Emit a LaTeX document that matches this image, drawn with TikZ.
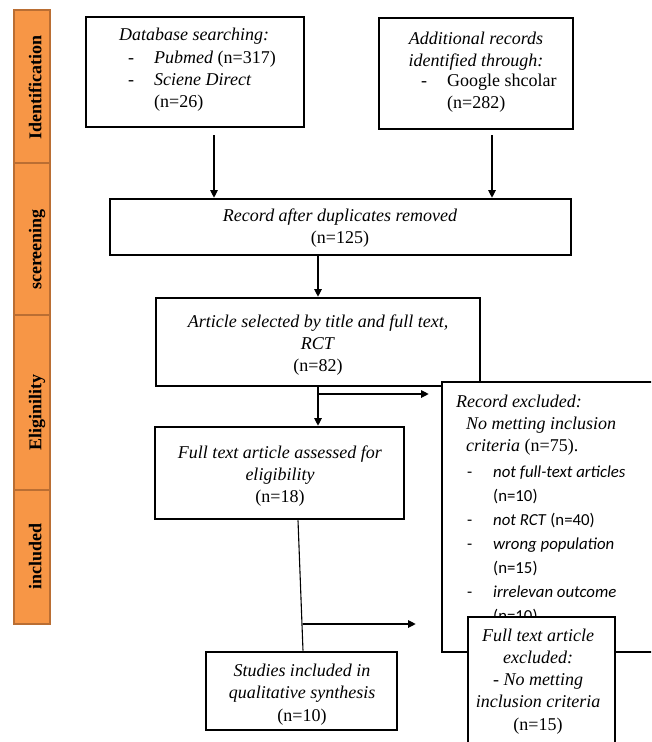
\documentclass[tikz,border=0pt]{standalone}
\usepackage{fontspec}
\setmainfont{Liberation Serif}
\newfontfamily\calib{Carlito}
\usetikzlibrary{arrows.meta,calc}
\definecolor{orfill}{HTML}{F79646}
\definecolor{ordraw}{HTML}{BA6E33}
\newcommand\tlines[1]{\begin{tabular}[t]{@{}c@{}}#1\end{tabular}}
\newcommand\llines[1]{\begin{tabular}[t]{@{}l@{}}#1\end{tabular}}
\tikzset{
  box/.style={draw=black, line width=2.6pt, fill=white, inner sep=0pt},
  arr/.style={draw=black, line width=1.1pt, -{Triangle[length=7.5pt,width=7.5pt]}},
  conn/.style={draw=black, line width=1.1pt},
  phase/.style={draw=ordraw, line width=1.8pt, fill=orfill, minimum width=36pt, inner sep=0pt},
  phtxt/.style={rotate=90, anchor=base, inner sep=0pt, font=\fontsize{18}{22}\selectfont\bfseries},
  txt/.style={inner sep=0pt, font=\fontsize{18}{22.3}\selectfont},
  stxt/.style={inner sep=0pt, font=\calib\fontsize{16.8}{24}\selectfont},
}
\begin{document}
\begin{tikzpicture}[x=1pt,y=-1pt]
\useasboundingbox (0,0) rectangle (651,742);
\clip (0,0) rectangle (651,742);
\fill[white] (0,0) rectangle (651,742);

% phase bar
\node[phase, minimum height=153pt] (p1) at (32,86.5) {};
\node[phase, minimum height=152pt] (p2) at (32,239) {};
\node[phase, minimum height=175pt] (p3) at (32,402.5) {};
\node[phase, minimum height=134pt] (p4) at (32,557) {};
\node[phtxt] (p1t) at (41.5,87.5) {Identification};
\node[phtxt] (p2t) at (41.5,249.5) {scereening};
\node[phtxt] (p3t) at (41.5,412.5) {Eliginility};
\node[phtxt] (p4t) at (41.5,556.5) {included};

% boxes
\node[box, minimum width=218pt, minimum height=110pt] (db) at (195,72) {};
\node[box, minimum width=194pt, minimum height=111pt] (add) at (476,73.5) {};
\node[box, minimum width=461pt, minimum height=56pt] (rec) at (340.5,227) {};
\node[box, minimum width=324pt, minimum height=88pt] (art) at (318,342) {};
\node[box, minimum width=249pt, minimum height=92pt] (ft) at (279.5,473) {};
\node[box, minimum width=228pt, minimum height=270pt] (recx) at (556,517) {};
\node[box, minimum width=191pt, minimum height=78pt] (stud) at (301.5,691) {};

% texts
\node[txt, anchor=base west] (dbt1) at (119,40) {\textit{Database searching:}};
\node[txt, anchor=base west] (dbt2) at (128,63) {\llines{\makebox[26pt][l]{-}\textit{Pubmed} (n=317)\\ \makebox[26pt][l]{-}\textit{Sciene Direct}\\ \hspace*{26pt}(n=26)}};
\node[txt, anchor=base] (addt1) at (476,44) {\tlines{\textit{Additional records}\\ \textit{identified through:}}};
\node[txt, anchor=base west] (addt2) at (421,86) {\llines{\makebox[26pt][l]{-}Google shcolar\\ \hspace*{26pt}(n=282)}};
\node[txt, anchor=base] (rect) at (340,221) {\tlines{\textit{Record after duplicates removed}\\ (n=125)}};
\node[txt, anchor=base] (artt) at (318,327) {\tlines{\textit{Article selected by title and full text,}\\ \textit{RCT}\\ (n=82)}};
\node[txt, anchor=base] (ftt) at (280,458) {\tlines{\textit{Full text article assessed for}\\ \textit{eligibility}\\ (n=18)}};
\node[txt, anchor=base west] (recxt) at (456,407) {\llines{\textit{Record excluded:}\\ \hspace*{10pt}\textit{No metting inclusion}\\ \hspace*{10pt}\textit{criteria} (n=75).}};
\node[stxt, anchor=base west] (recxl) at (467,477) {\llines{\makebox[26pt][l]{-}\textit{not full-text articles}\\ \hspace*{26pt}(n=10)\\ \makebox[26pt][l]{-}\textit{not RCT} (n=40)\\ \makebox[26pt][l]{-}\textit{wrong population}\\ \hspace*{26pt}(n=15)\\ \makebox[26pt][l]{-}\textit{irrelevan outcome}\\ \hspace*{26pt}(n=10)}};
\node[txt, anchor=base] (studt) at (302,676.5) {\tlines{\textit{Studies included in}\\ \textit{qualitative synthesis}\\ (n=10)}};

% box drawn over the excluded list
\node[box, minimum width=147pt, minimum height=143pt] (ftx) at (541.5,688.5) {};
\node[txt, anchor=base] (ftxt) at (538,641) {\tlines{\textit{Full text article}\\ \textit{excluded:}\\ \textit{- No metting}\\ \textit{inclusion criteria}\\ (n=15)}};

% connectors
\coordinate (a1) at (214,135);
\coordinate (a2) at (492,135);
\draw[arr] (a1) -- (a1 |- rec.north);
\draw[arr] (a2) -- (a2 |- rec.north);
\draw[arr] (rec.south -| art.north) -- (art.north);
\draw[arr] (art.south) -- (art.south |- ft.north);
\coordinate (b1) at (319,394);
\draw[arr, shorten >=12pt] (b1) -- (b1 -| recx.west);
\coordinate (x298) at (298,0);
\coordinate (x303) at (303,0);
\draw[conn] (ft.south -| x298) -- (stud.north -| x303);
\coordinate (b2) at (302.5,624);
\draw[arr, shorten >=25pt] (b2) -- (b2 -| recx.west);
\end{tikzpicture}
\end{document}
